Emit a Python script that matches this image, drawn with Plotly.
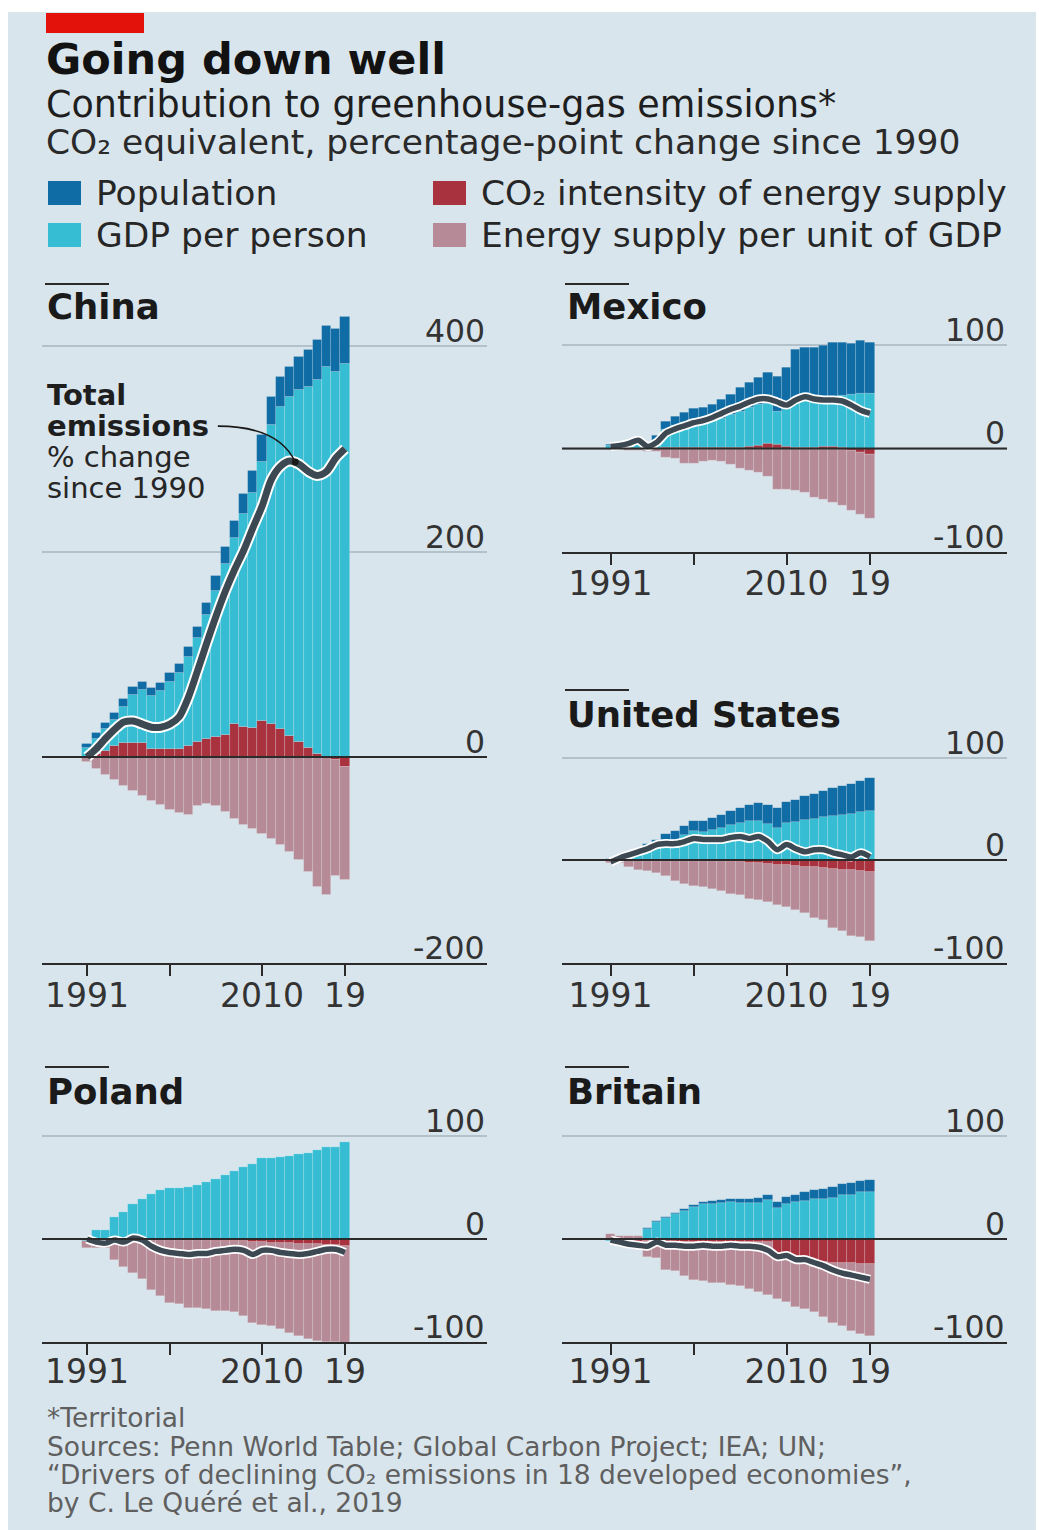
import plotly.graph_objects as go

W, H = 1039, 1530

years = list(range(1991, 2020))
tick_years = [1991, 2000, 2010, 2019]
tick_text = ["1991", "", "2010", "19"]

# ---------------- China ----------------
china_population = [4, 5, 6, 7, 8, 8, 8, 8, 8, 9, 9, 10, 11, 12, 14, 16, 17, 19, 21, 26, 27, 29, 30, 32, 36, 39, 40, 42, 45]
china_gdp = [9, 15, 21, 25, 35, 46, 51, 51, 56, 65, 74, 86, 101, 120, 142, 166, 181, 208, 229, 252, 291, 314, 329, 342, 351, 364, 380, 375, 383]
china_co2 = [0, 3, 6, 11, 14, 14, 14, 8, 8, 8, 8, 11, 15, 18, 20, 22, 32, 29, 28, 35, 32, 27, 21, 15, 9, 3, 0, -3, -10]
china_energy = [-5, -12, -17, -22, -28, -33, -38, -43, -47, -51, -54, -56, -48, -46, -48, -53, -60, -66, -70, -75, -80, -86, -92, -100, -112, -126, -134, -113, -110]
china_total = [0, 8, 18, 27, 34, 35, 32, 29, 29, 32, 39, 58, 84, 111, 137, 161, 182, 201, 223, 244, 270, 283, 288, 285, 278, 274, 278, 291, 300]

# ---------------- Mexico ----------------
mexico_population = [1, 2, 2, 3, 3, 5, 8, 9, 10, 11, 13, 16, 18, 19, 23, 24, 26, 30, 34, 38, 52, 51, 51, 52, 53, 52, 50, 52, 50]
mexico_gdp = [3, 3, 4, 6, -2, 8, 17, 21, 24, 27, 26, 26, 28, 32, 35, 38, 40, 39, 32, 38, 43, 46, 46, 46, 48, 50, 52, 53, 53]
mexico_co2 = [0, 0, 0, 0, 0, 0, 1, 1, 1, 1, 1, 1, 1, 1, 1, 2, 3, 5, 4, 2, 1, 1, 1, 2, 2, 1, -2, -4, -6]
mexico_energy = [-1, -1, -2, -2, -1, -3, -9, -10, -15, -15, -13, -12, -13, -16, -19, -21, -23, -27, -40, -40, -41, -43, -47, -49, -52, -55, -58, -60, -62]
mexico_total = [2, 3, 5, 8, 2, 6, 15, 19, 22, 25, 27, 30, 34, 38, 41, 45, 48, 48, 45, 42, 47, 50, 48, 47, 47, 46, 42, 37, 34]

# ---------------- United States ----------------
us_population = [1, 2, 3, 4, 5, 6, 7, 8, 9, 10, 11, 12, 13, 14, 15, 16, 18, 19, 20, 21, 22, 23, 24, 25, 27, 28, 29, 30, 32]
us_gdp = [-1, 1, 4, 7, 11, 14, 18, 20, 24, 28, 27, 29, 31, 34, 36, 38, 38, 35, 31, 36, 37, 39, 40, 42, 43, 44, 45, 47, 48]
us_co2 = [0, 0, 0, -1, -1, -1, -1, -1, -1, -1, -1, -1, -1, -2, -2, -3, -3, -4, -5, -5, -6, -7, -7, -8, -9, -10, -10, -11, -12]
us_energy = [-2, -3, -7, -9, -10, -12, -15, -19, -22, -24, -25, -27, -29, -31, -32, -35, -36, -37, -39, -41, -43, -45, -50, -51, -57, -59, -64, -64, -67]
us_total = [-2, 2, 5, 8, 11, 15, 16, 16, 18, 21, 20, 20, 20, 22, 23, 21, 23, 18, 10, 15, 11, 8, 10, 10, 7, 5, 3, 7, 3]

# ---------------- Poland ----------------
poland_population = [0, 0, 0, 0, 0, 0, 0, 0, 0, 0, 0, 0, 0, 0, 0, 0, 0, 0, 0, 0, 0, 0, 0, 0, 0, 0, 0, 0, 0]
poland_gdp = [-2, 9, 9, 20, 26, 34, 39, 44, 47, 49, 49, 50, 52, 55, 58, 62, 66, 70, 73, 78, 78, 79, 80, 82, 83, 86, 89, 89, 94]
poland_co2 = [0, -1, -1, 1, 0, 0, 0, -1, -1, -1, -1, -1, -1, -1, -2, -2, -2, -2, -3, -3, -4, -4, -4, -5, -5, -5, -6, -6, -7]
poland_energy = [-7, -8, -8, -20, -27, -33, -39, -48, -54, -61, -62, -66, -66, -67, -68, -68, -69, -73, -78, -80, -80, -83, -87, -89, -92, -94, -94, -94, -95]
poland_total = [0, -3, -4, -1, -3, 1, -1, -7, -11, -13, -14, -15, -14, -14, -12, -11, -10, -11, -15, -11, -11, -13, -14, -15, -14, -12, -10, -10, -13]

# ---------------- Britain ----------------
britain_population = [0, 0, 0, 0, 1, 1, 1, 1, 2, 2, 2, 3, 3, 3, 4, 4, 5, 5, 6, 7, 7, 8, 8, 9, 10, 10, 11, 11, 12]
britain_gdp = [-1, -1, 0, 0, 10, 16, 20, 24, 27, 31, 34, 34, 35, 36, 35, 35, 35, 38, 30, 34, 36, 37, 39, 39, 40, 43, 43, 45, 45]
britain_co2 = [-1, -3, -5, -6, -2, -2, -3, -3, -3, -3, -3, -3, -3, -3, -3, -3, -3, -3, -20, -20, -21, -21, -22, -22, -23, -23, -23, -24, -24]
britain_energy = [5, 3, 3, 3, -15, -16, -27, -28, -33, -37, -38, -40, -40, -42, -43, -45, -48, -51, -38, -41, -45, -47, -49, -54, -58, -61, -66, -68, -70]
britain_total = [-1, -3, -5, -6, -7, -3, -6, -6, -7, -7, -6, -7, -7, -6, -7, -7, -8, -11, -17, -16, -20, -20, -23, -26, -30, -33, -35, -37, -39]

# ---------------- styling ----------------
C_POP = "#106ca4"
C_GDP = "#36bdd3"
C_CO2 = "#a9323f"
C_ENE = "#b68b97"
C_LINE = "#3c4852"
C_BG = "#d9e5ec"
C_GRID = "#b3c1ca"
C_AX = "#2b2b2b"
FONT = "DejaVu Sans"


def px_x(p):
    return p / W


def px_y(p):
    return 1 - p / H


panels = [
    dict(name="China", n="", data=(china_co2, china_gdp, china_population, china_energy, china_total),
         xpx=(42, 487), x1991=87, ppy=9.214, zero=757, scale=1.0275, rng=(-200, 440),
         tv=[-200, 0, 200, 400], tt=["-200", "0", "200", "400"], title_y=307, rule_y=284,
         lw=(11, 7), standoff=-8),
    dict(name="Mexico", n="2", data=(mexico_co2, mexico_gdp, mexico_population, mexico_energy, mexico_total),
         xpx=(562, 1007), x1991=610.5, ppy=9.268, zero=448.5, scale=1.033, rng=(-100, 120),
         tv=[-100, 0, 100], tt=["-100", "0", "100"], title_y=307, rule_y=284,
         lw=(9, 5.5), standoff=-9),
    dict(name="United States", n="3", data=(us_co2, us_gdp, us_population, us_energy, us_total),
         xpx=(562, 1007), x1991=610.5, ppy=9.268, zero=860, scale=1.025, rng=(-100, 120),
         tv=[-100, 0, 100], tt=["-100", "0", "100"], title_y=714, rule_y=690,
         lw=(9, 5.5), standoff=-8),
    dict(name="Poland", n="4", data=(poland_co2, poland_gdp, poland_population, poland_energy, poland_total),
         xpx=(42, 487), x1991=87, ppy=9.214, zero=1239, scale=1.033, rng=(-100, 120),
         tv=[-100, 0, 100], tt=["-100", "0", "100"], title_y=1091, rule_y=1067,
         lw=(9, 5.5), standoff=-12),
    dict(name="Britain", n="5", data=(britain_co2, britain_gdp, britain_population, britain_energy, britain_total),
         xpx=(562, 1007), x1991=610.5, ppy=9.268, zero=1239, scale=1.033, rng=(-100, 120),
         tv=[-100, 0, 100], tt=["-100", "0", "100"], title_y=1091, rule_y=1067,
         lw=(9, 5.5), standoff=-12),
]

fig = go.Figure()
layout = dict(
    width=W, height=H, margin=dict(l=0, r=0, t=0, b=0),
    paper_bgcolor="white", plot_bgcolor="rgba(0,0,0,0)",
    barmode="relative", bargap=0, showlegend=False,
    font=dict(family=FONT, color="#333333"),
)

shapes = []
annotations = []

shapes.append(dict(type="rect", xref="paper", yref="paper", x0=px_x(8), x1=px_x(1036), y0=0, y1=px_y(12),
                   fillcolor=C_BG, line=dict(width=0), layer="below"))
shapes.append(dict(type="rect", xref="paper", yref="paper", x0=px_x(46), x1=px_x(144), y0=px_y(33), y1=px_y(13),
                   fillcolor="#e3120b", line=dict(width=0), layer="below"))


def ann(text, x, y, size, color="#1a1a1a", xanchor="left", yanchor="middle"):
    annotations.append(dict(text=text, xref="paper", yref="paper", x=px_x(x), y=px_y(y),
                            xanchor=xanchor, yanchor=yanchor, showarrow=False,
                            font=dict(family=FONT, size=size, color=color)))


ann("<b>Going down well</b>", 44, 59, 43, "#121212")
ann("Contribution to greenhouse-gas emissions*", 44, 105, 36.5, "#1e1e1e")
ann("CO₂ equivalent, percentage-point change since 1990", 44, 142, 34.5, "#2a2a2a")

legend_items = [
    ("Population", C_POP, 48, 193),
    ("GDP per person", C_GDP, 48, 235),
    ("CO₂ intensity of energy supply", C_CO2, 433, 193),
    ("Energy supply per unit of GDP", C_ENE, 433, 235),
]
for label, col, lx, ly in legend_items:
    shapes.append(dict(type="rect", xref="paper", yref="paper", x0=px_x(lx), x1=px_x(lx + 33),
                       y0=px_y(ly + 12), y1=px_y(ly - 12), fillcolor=col, line=dict(width=0)))
    ann(label, lx + 46, ly, 34.5, "#262626")

for p in panels:
    n = p["n"]
    xa = "x" + n
    ya = "y" + n
    co2, gdp, pop, ene, tot = p["data"]
    for vals, col in ((co2, C_CO2), (gdp, C_GDP), (pop, C_POP), (ene, C_ENE)):
        fig.add_trace(go.Bar(x=years, y=vals, xaxis=xa, yaxis=ya, width=1,
                             marker=dict(color=col, line=dict(width=0.7, color="rgba(255,255,255,0.22)")),
                             hoverinfo="skip"))
    fig.add_trace(go.Scatter(x=years, y=tot, xaxis=xa, yaxis=ya, mode="lines",
                             line=dict(color="white", width=p["lw"][0], shape="spline", smoothing=0.8),
                             hoverinfo="skip"))
    fig.add_trace(go.Scatter(x=years, y=tot, xaxis=xa, yaxis=ya, mode="lines",
                             line=dict(color=C_LINE, width=p["lw"][1], shape="spline", smoothing=0.8),
                             hoverinfo="skip"))

    x0px, x1px = p["xpx"]
    rng_x = [1991 - (p["x1991"] - x0px) / p["ppy"], 1991 + (x1px - p["x1991"]) / p["ppy"]]
    lo, hi = p["rng"]
    bottom_px = p["zero"] - lo * p["scale"]
    top_px = p["zero"] - hi * p["scale"]

    layout["xaxis" + n] = dict(
        domain=[px_x(x0px), px_x(x1px)], range=rng_x, anchor=ya,
        showgrid=False, zeroline=False, showline=True, linecolor=C_AX, linewidth=2,
        ticks="outside", ticklen=11, tickwidth=2, tickcolor=C_AX,
        tickmode="array", tickvals=tick_years, ticktext=tick_text,
        ticklabelstandoff=p["standoff"],
        tickfont=dict(family=FONT, size=33, color="#333333"), fixedrange=True,
    )
    layout["yaxis" + n] = dict(
        domain=[px_y(bottom_px), px_y(top_px)], range=[lo, hi], anchor=xa,
        side="right", showticklabels=False,
        showgrid=True, gridcolor=C_GRID, gridwidth=2, zeroline=False, showline=False, ticks="",
        tickmode="array", tickvals=p["tv"], fixedrange=True,
    )
    for v, t in zip(p["tv"], p["tt"]):
        annotations.append(dict(text=t, xref=xa + " domain", yref=ya, x=1, y=v,
                                xanchor="right", yanchor="middle", yshift=15, showarrow=False,
                                font=dict(family=FONT, size=31.5, color="#333333")))
    shapes.append(dict(type="line", xref=xa + " domain", yref=ya, x0=0, x1=1, y0=0, y1=0,
                       line=dict(color=C_AX, width=2), layer="above"))
    shapes.append(dict(type="line", xref="paper", yref="paper", x0=px_x(x0px + 3), x1=px_x(x0px + 67),
                       y0=px_y(p["rule_y"]), y1=px_y(p["rule_y"]), line=dict(color=C_AX, width=2)))
    ann("<b>" + p["name"] + "</b>", x0px + 3, p["title_y"], 35.5, "#1a1a1a")

# "Total emissions" callout in China panel
ann("<b>Total</b>", 45, 395, 29, "#1e1e1e")
ann("<b>emissions</b>", 45, 426, 29, "#1e1e1e")
ann("% change", 45, 457, 29, "#262626")
ann("since 1990", 45, 488, 29, "#262626")
shapes.append(dict(type="path", xref="x", yref="y",
                   path="M 2005.2,322 Q 2011.8,322 2013.6,287",
                   line=dict(color="#1a1a1a", width=1.6)))
shapes.append(dict(type="circle", xref="x", yref="y", x0=2013.6 - 0.38, x1=2013.6 + 0.38,
                   y0=287 - 3.4, y1=287 + 3.4, fillcolor="#1a1a1a", line=dict(width=0), layer="above"))

# footnotes
ann("*Territorial", 45, 1417, 26.5, "#5f5f5f")
ann("Sources: Penn World Table; Global Carbon Project; IEA; UN;", 45, 1446, 26.5, "#5f5f5f")
ann("“Drivers of declining CO₂ emissions in 18 developed economies”,", 45, 1474, 26.5, "#5f5f5f")
ann("by C. Le Quéré et al., 2019", 45, 1502, 26.5, "#5f5f5f")

layout["shapes"] = shapes
layout["annotations"] = annotations
fig.update_layout(**layout)
fig.write_html("out.html")
